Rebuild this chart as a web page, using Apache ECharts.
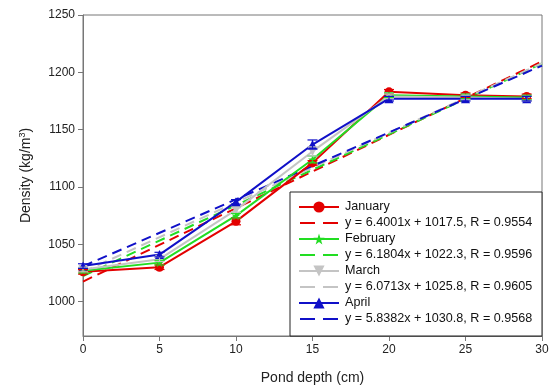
<!DOCTYPE html>
<html><head><meta charset="utf-8">
<script src="https://cdn.jsdelivr.net/npm/echarts@6/dist/echarts.min.js"></script>
<style>html,body{margin:0;padding:0;background:#fff}#c{width:553px;height:390px}</style>
</head><body><div id="c"></div>
<script>
const depths = [0, 5, 10, 15, 20, 25, 29];
const january  = [1026, 1030, 1070, 1121, 1183, 1180, 1179];
const february = [1027, 1034, 1075, 1124, 1180, 1179, 1178];
const march    = [1028, 1037, 1080, 1131, 1179, 1178, 1177];
const april    = [1031, 1041, 1087, 1137, 1177, 1177, 1177];
const janErr = [2, 2, 3, 2, 2, 2, 2];
const febErr = [2, 2, 2, 3, 2, 2, 2];
const marErr = [2, 2, 2, 4, 2, 2, 2];
const aprErr = [2, 2, 2, 4, 2, 2, 2];
const fitX = [0, 30];
const janFit = [1017.5, 1209.5];
const febFit = [1022.3, 1207.7];
const marFit = [1025.8, 1207.9];
const aprFit = [1030.8, 1205.9];
const janEq = 'y = 6.4001x + 1017.5, R = 0.9554';
const febEq = 'y = 6.1804x + 1022.3, R = 0.9596';
const marEq = 'y = 6.0713x + 1025.8, R = 0.9605';
const aprEq = 'y = 5.8382x + 1030.8, R = 0.9568';
const yTicks = [1000, 1050, 1100, 1150, 1200, 1250];

const RED = '#e30000', GREEN = '#22dd22', GREY = '#c4c4c4', BLUE = '#1010c8';
const STAR = 'path://M50,0 L61,35 L98,35 L68,57 L79,91 L50,70 L21,91 L32,57 L2,35 L39,35 Z';
const DASH_ICON = 'path://M0,0 L0.01,0 L0,0.01 Z M40,14 L39.99,14 L40,13.99 Z M1,6 L16,6 L16,8 L1,8 Z M24,6 L39,6 L39,8 L24,8 Z';

function pairs(xs, ys){ return xs.map((x,i)=>[x, ys[i]]); }
function dataSeries(name, vals, color, symbol, rot){
  return {name, type:'line', data:pairs(depths, vals), symbol, symbolRotate:rot||0, symbolSize:9,
    lineStyle:{color, width:2}, itemStyle:{color}, z:4};
}
function fitSeries(name, vals, color){
  return {name, type:'line', data:pairs(fitX, vals), symbol:'none',
    lineStyle:{color, width:2, type:[10,6]}, itemStyle:{color}, z:3};
}
function errSeries(vals, errs, color){
  return {type:'custom', z:5, silent:true,
    data: depths.map((x,i)=>[x, vals[i]-errs[i], vals[i]+errs[i]]),
    renderItem:function(params, api){
      const x = api.value(0);
      const lo = api.coord([x, api.value(1)]);
      const hi = api.coord([x, api.value(2)]);
      const w = 5;
      const st = {stroke:color, lineWidth:1.2};
      return {type:'group', children:[
        {type:'line', shape:{x1:lo[0], y1:lo[1], x2:hi[0], y2:hi[1]}, style:st},
        {type:'line', shape:{x1:lo[0]-w, y1:lo[1], x2:lo[0]+w, y2:lo[1]}, style:st},
        {type:'line', shape:{x1:hi[0]-w, y1:hi[1], x2:hi[0]+w, y2:hi[1]}, style:st}
      ]};
    }};
}

const chart = echarts.init(document.getElementById('c'), null, {renderer:'canvas'});
const FF = 'Liberation Sans, Arial, sans-serif';
chart.setOption({
  animation:false,
  backgroundColor:'#fff',
  grid:{left:83, right:11, top:15, bottom:54, show:true, borderColor:'#777', borderWidth:1},
  xAxis:{type:'value', min:0, max:30, interval:5,
    axisLine:{lineStyle:{color:'#777', width:1}},
    axisTick:{inside:false, length:5, lineStyle:{color:'#777'}},
    axisLabel:{margin:8, fontFamily:FF, fontSize:12, color:'#222', formatter:v=>String(v)},
    splitLine:{show:false},
    name:'Pond depth (cm)', nameLocation:'middle', nameGap:35,
    nameTextStyle:{fontFamily:FF, fontSize:14, color:'#222'}},
  yAxis:{type:'value', min:970, max:1250,
    axisLine:{show:true, lineStyle:{color:'#777', width:1}},
    axisTick:{show:true, length:5, customValues:yTicks, lineStyle:{color:'#777'}},
    axisLabel:{margin:8, customValues:yTicks, fontFamily:FF, fontSize:12, color:'#222', formatter:v=>String(v)},
    splitLine:{show:false},
    name:'Density (kg/m{s|3})', nameLocation:'middle', nameGap:48, nameRotate:90,
    nameTextStyle:{fontFamily:FF, fontSize:14, color:'#222',
      rich:{s:{fontSize:9, verticalAlign:'top', padding:[0,0,8,0], fontFamily:FF, color:'#222'}}}},
  legend:{orient:'vertical', left:298, top:200, itemWidth:40, itemHeight:14, itemGap:2, padding:0, z:30,
    textStyle:{fontFamily:FF, fontSize:12.6, color:'#111', padding:[0,0,0,1], lineHeight:16, height:14},
    data:[
      {name:'January'}, {name:janEq, icon:DASH_ICON},
      {name:'February'}, {name:febEq, icon:DASH_ICON},
      {name:'March'}, {name:marEq, icon:DASH_ICON},
      {name:'April'}, {name:aprEq, icon:DASH_ICON}
    ]},
  graphic:[{type:'rect', shape:{x:290, y:192, width:252, height:144}, style:{fill:'#fff', stroke:'#222', lineWidth:1}, z:20}],
  series:[
    fitSeries(janEq, janFit, RED),
    fitSeries(febEq, febFit, GREEN),
    fitSeries(marEq, marFit, GREY),
    fitSeries(aprEq, aprFit, BLUE),
    dataSeries('January', january, RED, 'circle'),
    dataSeries('February', february, GREEN, STAR),
    dataSeries('March', march, GREY, 'triangle', 180),
    dataSeries('April', april, BLUE, 'triangle'),
    errSeries(january, janErr, RED),
    errSeries(february, febErr, GREEN),
    errSeries(march, marErr, GREY),
    errSeries(april, aprErr, BLUE)
  ]
});
</script></body></html>
